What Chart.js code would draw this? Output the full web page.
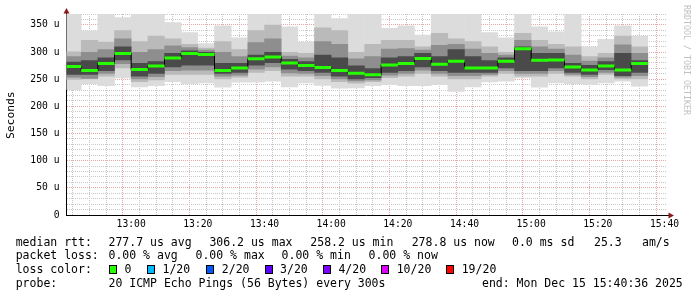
<!DOCTYPE html>
<html><head><meta charset="utf-8">
<script src="https://cdn.jsdelivr.net/npm/chart.js@4/dist/chart.umd.min.js"></script>
<style>
html,body{margin:0;padding:0;background:#fff;}
#wrap{position:relative;width:697px;height:297px;overflow:hidden;background:#fff;}
#c{position:absolute;left:0;top:0;}
.t{position:absolute;font-family:"DejaVu Sans Mono",monospace;font-size:11.5px;line-height:14px;white-space:pre;color:#000;}
.box{position:absolute;width:6px;height:7px;border:1px solid #000;}
#wm{position:absolute;left:682px;top:5px;writing-mode:vertical-rl;font-family:"DejaVu Sans Mono",monospace;font-size:8.3px;line-height:10px;color:#c0c0c0;white-space:pre;}
#ytitle{position:absolute;left:1px;top:54.5px;width:20px;height:120px;writing-mode:vertical-rl;transform:rotate(180deg);text-align:center;font-family:"DejaVu Sans Mono",monospace;font-size:11.3px;line-height:20px;color:#000;}
</style>
</head><body>
<div id="wrap">
<canvas id="c" width="697" height="297"></canvas>
<div id="wm">RRDTOOL / TOBI OETIKER</div>
<div id="ytitle">Seconds</div>
</div>
<script>
// ---- data ----
const slotTimes = ['12:40','12:45','12:50','12:55','13:00','13:05','13:10','13:15','13:20','13:25','13:30','13:35','13:40','13:45','13:50','13:55','14:00','14:05','14:10','14:15','14:20','14:25','14:30','14:35','14:40','14:45','14:50','14:55','15:00','15:05','15:10','15:15','15:20','15:25','15:30'];
const medianRtt = [273.2,265.9,278.8,297.2,267.7,274.5,289.2,297.2,295.3,265.9,270.8,287.4,291.0,280.0,275.1,271.4,265.9,260.8,258.2,276.3,278.8,288.0,277.5,283.1,270.8,270.8,283.1,306.2,284.9,285.5,272.6,267.1,274.5,267.1,278.8];
const pingMax = [370,339.5,370,364,370,370,355,336.5,316,348.8,326.6,370,370,347,319,370,362,370,370,344,348.8,331.6,370,370,370,336.5,326.6,370,347,337.7,370,310,324,348.8,330];
const pingP85 = [301,322,319,340,320,330,325,315,308,320,305,340,350,300,298,345,340,300,315,322,322,310,335,325,320,310,300,335,322,315,310,292,298,330,310];
const pingP75 = [292,300,305,325,300,305,312,309,304,300,292,318,325,293,290,320,315,288,292,306,307,304,313,315,306,298,295,322,310,306,295,284,290,314,298];
const pingP65 = [282,285,290,310,280,283,298,303,300,280,280,295,300,287,283,295,290,275,270,290,292,298,292,305,292,285,290,310,298,298,280,276,283,298,285];
const pingP35 = [258,258,265,285,255,260,272,275,275,260,262,275,280,268,265,262,255,250,252,262,265,272,265,262,262,262,270,265,265,270,262,258,267,256,262];
const pingP25 = [253,251,260,278,250,254,265,266,266,255,257,268,272,261,260,256,250,246,248,257,260,266,260,256,256,258,265,260,260,265,258,254,262,253,256];
const pingP15 = [249,250,255,270,245,248,258,258,258,250,253,262,265,255,255,250,245,242,245,252,255,260,255,250,250,255,260,255,255,260,255,250,258,250,250];
const pingMin = [230.3,241.3,237.6,251.7,235.2,237.6,245,241.3,242.5,234.5,243.8,243.8,245.6,235,242.5,238,232.7,233.3,237.6,239.5,237.6,237.6,239.5,227,235,244.4,245.6,251.7,234.5,242.5,241.3,239.5,242.5,245.6,236.4];
const xTickLabels = ['13:00','13:20','13:40','14:00','14:20','14:40','15:00','15:20','15:40'];
const timeStart = '12:40:36', timeEnd = '15:40:36';
const yMax = 370;
const statsRtt = ['277.7 us avg','306.2 us max','258.2 us min','278.8 us now','0.0 ms sd','25.3','am/s'];
const statsLoss = ['0.00 % avg','0.00 % max','0.00 % min','0.00 % now'];
const lossLabels = ['0','1/20','2/20','3/20','4/20','10/20','19/20'];
const lossColors = ['#26ff00','#00b8ff','#0059ff','#5e00ff','#7e00ff','#dd00ff','#ff0000'];
const probeText = '20 ICMP Echo Pings (56 Bytes) every 300s';
const endText = 'end: Mon Dec 15 15:40:36 2025';

// ---- helpers ----
const toMin = s => { const p = s.split(':').map(Number); return p[0]*60 + p[1] + (p[2]||0)/60; };
const slotLen = 5;
const xMin = toMin(timeStart), xMax = toMin(timeEnd);
const xTickValues = []; for (let v = Math.ceil(xMin/slotLen)*slotLen; v <= xMax; v += slotLen) xTickValues.push(v);
const xLabelMap = {}; xTickLabels.forEach(l => xLabelMap[toMin(l)] = l);
const yTickValues = []; for (let v = 0; v <= yMax; v += 10) yTickValues.push(v);

const layers = [
  {lo: pingMin, hi: pingMax, color: '#dcdcdc', order: 7},
  {lo: pingP15, hi: pingP85, color: '#bababa', order: 6},
  {lo: pingP25, hi: pingP75, color: '#8e8e8e', order: 5},
  {lo: pingP35, hi: pingP65, color: '#4a4a4a', order: 4},
];
const barSets = layers.map(L => ({
  type: 'bar',
  data: slotTimes.map((t, i) => ({x: toMin(t) + slotLen/2, y: [L.lo[i], L.hi[i]]})),
  backgroundColor: L.color, borderWidth: 0, grouped: false,
  barPercentage: 1.03, categoryPercentage: 1, order: L.order
}));
const stepData = slotTimes.map((t, i) => ({x: toMin(t), y: medianRtt[i]}));
stepData.push({x: toMin(slotTimes[slotTimes.length-1]) + slotLen, y: medianRtt[medianRtt.length-1]});
const greenData = [];
slotTimes.forEach((t, i) => {
  greenData.push({x: toMin(t), y: medianRtt[i]});
  greenData.push({x: toMin(t) + slotLen, y: medianRtt[i]});
  greenData.push({x: toMin(t) + slotLen, y: null});
});

const MINOR = '#c8c8c8', MAJOR = '#e8a8a8';
const FONT = '"DejaVu Sans Mono", monospace';

const arrows = {
  id: 'arrows',
  afterDraw(chart) {
    const {ctx, chartArea: a} = chart;
    ctx.save();
    ctx.strokeStyle = '#000'; ctx.lineWidth = 1;
    ctx.beginPath();
    ctx.moveTo(66.5, a.top); ctx.lineTo(66.5, 12);
    ctx.moveTo(a.right, 215.5); ctx.lineTo(669, 215.5);
    ctx.stroke();
    ctx.fillStyle = '#8b1a1a';
    ctx.beginPath(); ctx.moveTo(63.5, 13.5); ctx.lineTo(69.5, 13.5); ctx.lineTo(66.5, 8); ctx.closePath(); ctx.fill();
    ctx.beginPath(); ctx.moveTo(668.5, 212.5); ctx.lineTo(668.5, 218.5); ctx.lineTo(674, 215.5); ctx.closePath(); ctx.fill();
    ctx.restore();
  }
};

new Chart(document.getElementById('c'), {
  type: 'bar',
  data: { datasets: [
    ...barSets,
    {type: 'line', data: stepData, stepped: 'before', borderColor: '#000', borderWidth: 1, pointRadius: 0, fill: false, order: 2},
    {type: 'line', data: greenData, borderColor: '#26ff00', borderWidth: 3, borderCapStyle: 'butt', pointRadius: 0, spanGaps: false, fill: false, order: 1},
  ]},
  options: {
    responsive: false, animation: false, devicePixelRatio: 1,
    layout: {padding: {top: 14, right: 30.5, left: 0, bottom: 0}},
    plugins: {legend: {display: false}, tooltip: {enabled: false}},
    scales: {
      x: {
        type: 'linear', min: xMin, max: xMax, offset: false, z: 1,
        afterBuildTicks: s => { s.ticks = xTickValues.map(v => ({value: v})); },
        afterFit: s => { s.height = 82; },
        ticks: {autoSkip: false, maxRotation: 0, minRotation: 0, padding: 4, color: '#000',
          font: {family: FONT, size: 9.7},
          callback: v => xLabelMap[v] || ''},
        grid: {drawTicks: false, lineWidth: 1, color: c => (c.tick && xLabelMap[c.tick.value]) ? MAJOR : MINOR},
        border: {display: true, color: '#000', width: 1, dash: [1, 1]}
      },
      y: {
        type: 'linear', min: 0, max: yMax, z: 1,
        afterBuildTicks: s => { s.ticks = yTickValues.map(v => ({value: v})); },
        afterFit: s => { s.width = 66.5; },
        ticks: {autoSkip: false, padding: 7, color: '#000', font: {family: FONT, size: 9.7},
          callback: v => v % 50 === 0 ? (v === 0 ? '0' : v + ' u') : ''},
        grid: {drawTicks: false, lineWidth: 1, color: c => (c.tick && c.tick.value % 50 === 0) ? MAJOR : MINOR},
        border: {display: true, color: '#000', width: 1, dash: [1, 1]}
      }
    }
  },
  plugins: [arrows]
});

// ---- legend text below the plot ----
const wrap = document.getElementById('wrap');
function addText(x, y, s) { const d = document.createElement('div'); d.className = 't'; d.style.left = x + 'px'; d.style.top = y + 'px'; d.textContent = s; wrap.appendChild(d); }
const rows = [234.8, 248.1, 262.4, 275.8];
addText(15.7, rows[0], 'median rtt:');
[108.5, 209.4, 310.3, 411.7, 512, 594, 642].forEach((x, i) => addText(x, rows[0], statsRtt[i]));
addText(15.7, rows[1], 'packet loss:');
[108.5, 195.5, 281.6, 368.6].forEach((x, i) => addText(x, rows[1], statsLoss[i]));
addText(15.7, rows[2], 'loss color:');
[109, 147, 206.3, 264.6, 322.9, 381.2, 446.2].forEach((x, i) => {
  const b = document.createElement('div'); b.className = 'box'; b.style.left = x + 'px'; b.style.top = '264.5px'; b.style.background = lossColors[i]; wrap.appendChild(b);
  addText(x + 15.5, rows[2], lossLabels[i]);
});
addText(15.7, rows[3], 'probe:');
addText(108.5, rows[3], probeText);
addText(482, rows[3], endText);
</script>
</body></html>
